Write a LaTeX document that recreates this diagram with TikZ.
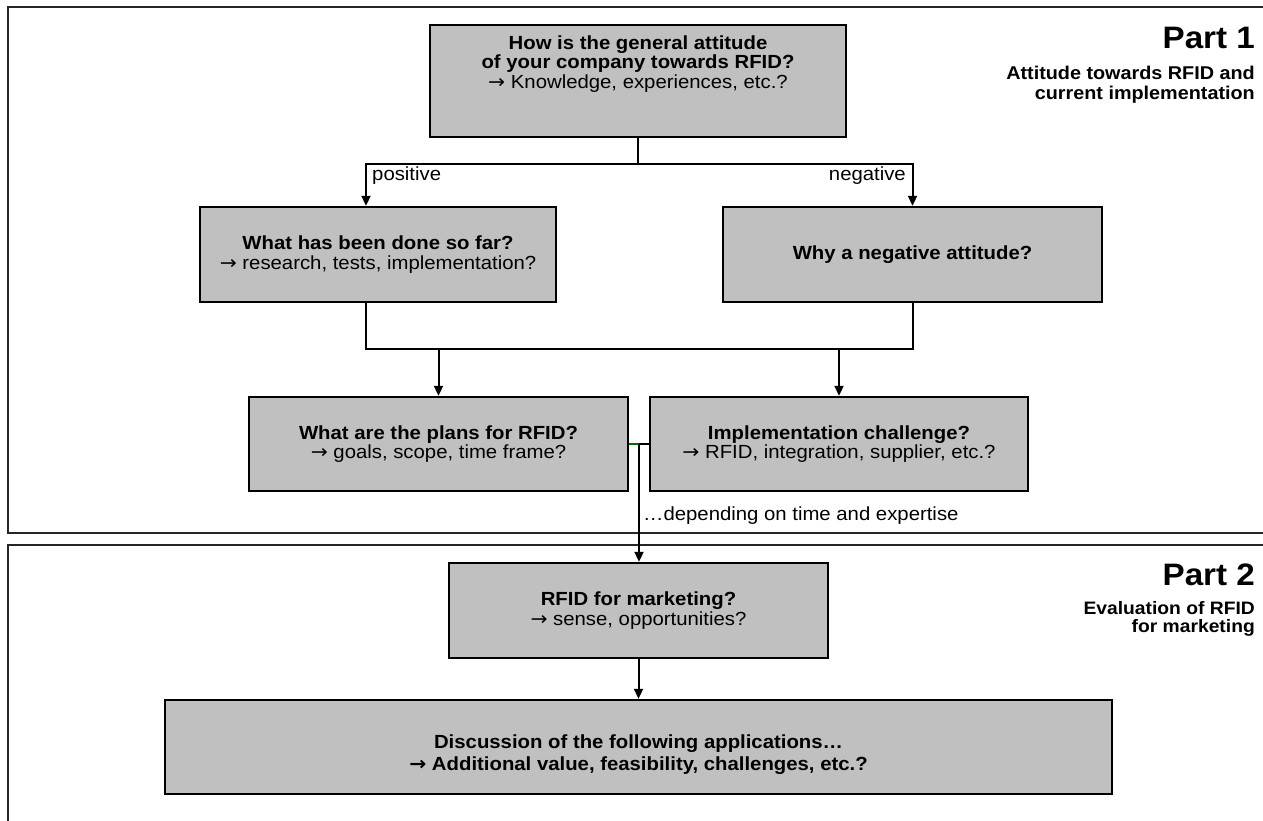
\documentclass[tikz,border=0pt]{standalone}
\usepackage{fontspec}
\setmainfont[FakeStretch=1.07]{Liberation Sans}
\newfontfamily\symfont[FakeStretch=1.07]{DejaVu Sans}
\usetikzlibrary{arrows.meta}
\definecolor{boxgray}{RGB}{192,192,192}
\definecolor{darkgreen}{RGB}{0,110,0}
\newcommand{\ar}{{\symfont →}}
\tikzset{
  qbox/.style={draw=black, line width=2.4pt, fill=boxgray, align=center, inner sep=0pt,
    font=\fontsize{19}{19.5}\selectfont},
  qtext/.style={align=center, inner sep=0pt, font=\fontsize{19}{19.5}\selectfont},
  conn/.style={draw=black, line width=2pt},
  arr/.style={conn, -{Triangle[length=10pt,width=9pt]}},
  frameline/.style={draw=black!85, line width=1.6pt},
  lbl/.style={font=\fontsize{19}{20}\selectfont, inner sep=0pt}
}
\begin{document}
\begin{tikzpicture}[x=1pt,y=-1pt]
\useasboundingbox (0,0) rectangle (1263,821);
\clip (0,0) rectangle (1263,821);
% frames
\draw[frameline] (1266,7) -- (8,7) -- (8,533) -- (1266,533);
\draw[frameline] (1266,545) -- (8,545) -- (8,825);
% part titles
\node[anchor=east, inner sep=0pt, font=\fontsize{31}{33}\selectfont\bfseries] (p1) at (1255,38) {Part 1};
\node[anchor=north east, inner sep=0pt, align=right, font=\fontsize{18.5}{20}\selectfont\bfseries] (p1s) at (1255,66)
  {Attitude towards RFID and\\current implementation};
\node[anchor=east, inner sep=0pt, font=\fontsize{31}{33}\selectfont\bfseries] (p2) at (1255,575) {Part 2};
\node[anchor=north east, inner sep=0pt, align=right, font=\fontsize{18}{18.5}\selectfont\bfseries] (p2s) at (1255,601)
  {Evaluation of RFID\\for marketing};
% boxes
\node[qbox, minimum width=416pt, minimum height=112pt] (top) at (638,81) {};
\node[qtext] (toptext) at (638,64)
  {\textbf{How is the general attitude}\\\textbf{of your company towards RFID?}\\\ar\ Knowledge, experiences, etc.?};
\node[qbox, minimum width=356pt, minimum height=95pt] (done) at (378,254.5)
  {\textbf{What has been done so far?}\\\ar\ research, tests, implementation?};
\node[qbox, minimum width=379pt, minimum height=95pt] (neg) at (912.5,254.5)
  {\textbf{Why a negative attitude?}};
\node[qbox, minimum width=379pt, minimum height=94pt] (plans) at (438.5,444)
  {\textbf{What are the plans for RFID?}\\\ar\ goals, scope, time frame?};
\node[qbox, minimum width=378pt, minimum height=94pt] (impl) at (839,444)
  {\textbf{Implementation challenge?}\\\ar\ RFID, integration, supplier, etc.?};
\node[qbox, minimum width=379pt, minimum height=95pt] (mkt) at (638.5,610.5)
  {\textbf{RFID for marketing?}\\\ar\ sense, opportunities?};
\node[qbox, minimum width=947pt, minimum height=94pt] (disc) at (638.5,747) {};
\node[qtext, font=\fontsize{19}{22}\selectfont] (disctext) at (638.5,755)
  {\textbf{Discussion of the following applications…}\\\textbf{\ar\ Additional value, feasibility, challenges, etc.?}};
% connectors
\coordinate (split) at (638,164);
\coordinate (merge) at (0,349);
\coordinate (join) at (639,444);
\draw[conn] (top.south) -- (split);
\draw[arr] (split) -| ([xshift=-12pt]done.north);
\draw[arr] (split) -| (neg.north);
\draw[conn] ([xshift=-12pt]done.south) |- (merge -| neg.south) -- (neg.south);
\draw[arr] (merge -| plans.north) -- (plans.north);
\draw[arr] (merge -| impl.north) -- (impl.north);
\draw[conn, draw=darkgreen] (plans.east) -- (join);
\draw[conn] (join) -- (impl.west);
\draw[arr] (join) -- (mkt.north -| join);
\draw[arr] (mkt.south) -- (disc.north);
% labels
\node[lbl, anchor=west] (pos) at (372,176) {positive};
\node[lbl, anchor=east] (negl) at (906,176) {negative};
\node[lbl, anchor=west] (dep) at (643,516) {…depending on time and expertise};
\end{tikzpicture}
\end{document}
